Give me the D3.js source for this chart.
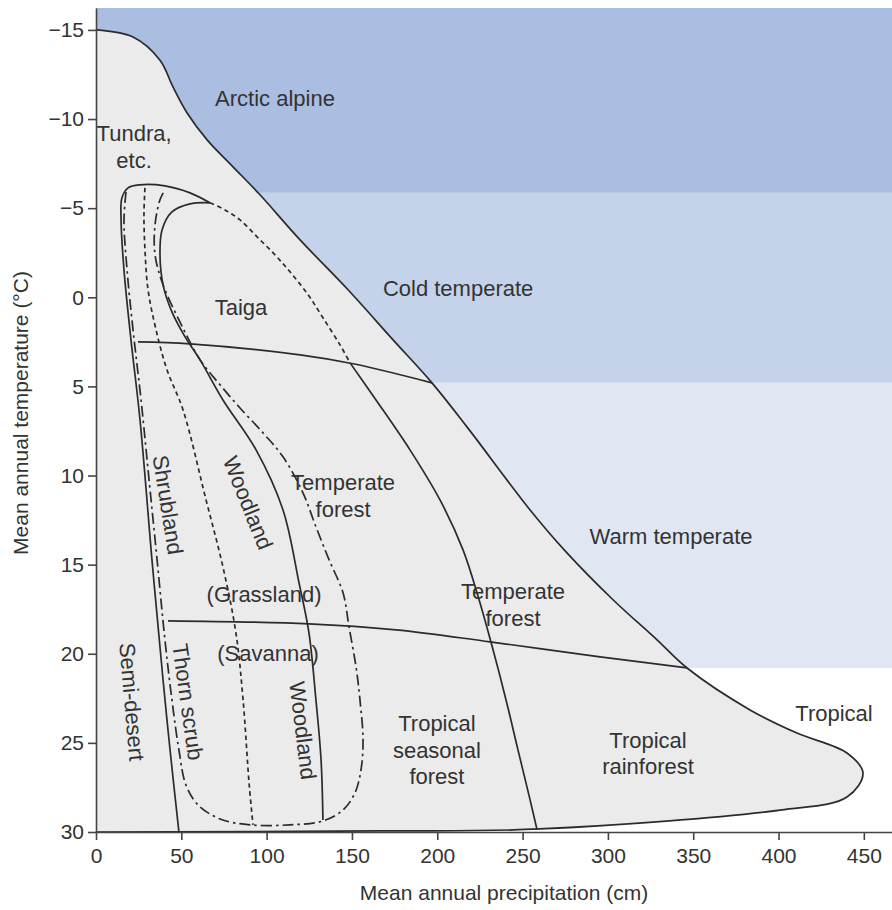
<!DOCTYPE html>
<html>
<head>
<meta charset="utf-8">
<script src="https://cdn.jsdelivr.net/npm/d3@7"></script>
<style>
  body { margin: 0; background: #fff; }
  text { font-family: "Liberation Sans", Arial, sans-serif; fill: #333; }
</style>
</head>
<body>
<script>
// Data ///////////////////////////////////////////////////////////////////

const precipTicks = [0, 50, 100, 150, 200, 250, 300, 350, 400, 450];
const tempTicks = [-15, -10, -5, 0, 5, 10, 15, 20, 25, 30];

// climate zones: temperature breaks (top of chart down to tropical)
const zoneNames = ["Arctic alpine", "Cold temperate", "Warm temperate"];
const zoneBreaks = [-16.23, -5.86, 4.8, 20.8];

// [precipitation cm, temperature °C]
const envelope = [
  [0, -15], [21.7, -14.6], [37.5, -13.3], [45.1, -11.8], [53.3, -10.35],
  [65.1, -8.83], [80.3, -7.32], [96.1, -5.75], [119.6, -3.22], [147.7, -0.42],
  [174.1, 2.39], [196.9, 4.8], [217.4, 7.27], [254.4, 11.93], [276, 14.34],
  [303, 16.97], [328.8, 19.22], [346.4, 20.8], [383.3, 23.15], [410.8, 24.45],
  [440.1, 25.57], [449.5, 26.7], [440.1, 28.04], [400.9, 28.77], [260.2, 29.83],
  [166.4, 29.94], [0, 30],
];

const semiDesertEdge = [
  [66.8, -5.3], [55.1, -5.86], [40.4, -6.25], [25.8, -6.31], [18.8, -6.14],
  [15.2, -5.58], [14.7, -4.34], [16.4, -1.54], [20.5, 2.39], [25.8, 6.88],
  [32.8, 14.73], [39.3, 21.47], [43.4, 25.4], [48.6, 30],
];

const woodlandEdge = [
  [66.8, -5.3], [55.1, -5.24], [44.5, -4.79], [38.7, -3.78], [37.5, -2.38],
  [39.3, -0.7], [44.5, 0.82], [52.2, 2.22], [61, 3.51], [74.4, 5.76],
  [93.8, 8.56], [109.6, 11.93], [119, 16.03], [124.8, 18.83], [128.9, 22.59],
  [131.9, 25.96], [133, 29.33],
];

const shrublandEdge = [
  [28.7, -6.14], [28.1, -4.63], [28.7, -2.66], [30.5, -0.42], [35.2, 1.83],
  [41.6, 4.07], [51, 6.32], [64.5, 11.37], [74.4, 15.13], [82, 18.83],
  [86.2, 22.59], [89.7, 27.25], [92, 29.6],
];

const grasslandLoop = [
  [17.6, -5.91], [16.4, -4.34], [18.2, -1.54], [21.7, 1.83], [26.4, 5.76],
  [31.1, 10.25], [35.8, 14.73], [40.4, 19.22], [44.5, 22.59], [48.6, 25.4],
  [52.7, 27.36], [59.8, 28.48], [72.7, 29.27], [90.3, 29.6], [113.7, 29.6],
  [133, 29.38], [144.8, 28.76], [151.8, 27.8], [155.3, 26.51], [156.5, 24.83],
  [154.7, 22.59], [152.4, 20.74], [148.3, 18.5], [144.8, 16.59], [136.6, 14.73],
  [128.9, 12.88], [121.3, 10.97], [109.6, 8.95], [97.9, 7.61], [84.4, 6.21],
  [72.7, 4.91], [61, 3.51], [49.2, 1.38], [39.3, -0.7], [34.6, -2.38],
  [34.6, -4.07], [37.5, -5.47], [40.4, -6.03],
];

const taigaEdge = [
  [66.8, -5.3], [75.6, -4.9], [84.4, -4.34], [94.4, -3.39], [104.9, -2.38],
  [113.7, -1.43], [124.3, -0.14], [133, 1.15], [143, 2.67], [148.9, 3.68],
];

const forestEdge = [
  [148.9, 3.68], [164.1, 5.76], [184, 8.56], [201.6, 11.37], [215.1, 14.17],
  [224.5, 16.97], [232.7, 19.78], [240.3, 22.59], [247.3, 25.39], [254.4, 28.2],
  [258.5, 29.88],
];

const coldWarmLine = [
  [24.6, 2.5], [55.1, 2.61], [119.6, 3.23], [150.7, 3.73], [196.9, 4.8],
];

const warmTropicalLine = [
  [42.2, 18.15], [124.8, 18.32], [175.8, 18.66], [230.9, 19.33], [295.4, 20.17],
  [346.4, 20.79],
];

// biome labels: text lines, anchor [precip, temp], rotation
const biomeNames = [
  ["Arctic alpine"], ["Tundra,", "etc."], ["Taiga"], ["Cold temperate"],
  ["Temperate", "forest"], ["Warm temperate"], ["Temperate", "forest"],
  ["(Grassland)"], ["(Savanna)"], ["Tropical"], ["Tropical", "seasonal", "forest"],
  ["Tropical", "rainforest"], ["Shrubland"], ["Woodland"], ["Semi-desert"],
  ["Thorn scrub"], ["Woodland"],
];
const biomeAt = [
  [104.9, -11.18], [22.3, -8.43], [85, 0.54], [212.2, -0.52],
  [144.8, 11.15], [337, 13.39], [244.4, 17.26],
  [98.5, 16.64], [100.8, 20], [432.5, 23.33], [199.8, 25.41],
  [323.5, 25.58], [42.2, 11.64], [89.1, 11.53], [21.1, 22.7],
  [53.9, 22.7], [121.3, 24.3],
];
const biomeAngle = [0, 0, 0, 0, 0, 0, 0, 0, 0, 0, 0, 0, 81, 68, 85, 82, 83];

// Chart //////////////////////////////////////////////////////////////////

const width = 892;
const height = 910;

const x = d3.scaleLinear().domain([0, 466.5]).range([96, 892]);
const y = d3.scaleLinear().domain([-16.23, 30]).range([8, 832]);

const svg = d3
  .select("body")
  .append("svg")
  .attr("width", width)
  .attr("height", height);

const zoneColors = ["#a9bee1", "#c4d3ea", "#e0e7f3"];

svg
  .append("g")
  .selectAll("rect")
  .data(zoneNames)
  .join("rect")
  .attr("x", x(0))
  .attr("width", x(466.5) - x(0))
  .attr("y", (_, i) => y(zoneBreaks[i]))
  .attr("height", (_, i) => y(zoneBreaks[i + 1]) - y(zoneBreaks[i]))
  .attr("fill", (_, i) => zoneColors[i]);

const line = d3
  .line()
  .x((d) => x(d[0]))
  .y((d) => y(d[1]))
  .curve(d3.curveCatmullRom.alpha(0.5));

svg
  .append("path")
  .attr("d", line(envelope) + "Z")
  .attr("fill", "#ebebeb")
  .attr("stroke", "none");

drawCurve(envelope, null);
drawCurve(semiDesertEdge, null);
drawCurve(woodlandEdge, null);
drawCurve(shrublandEdge, "4.5,3.5");
drawCurve(grasslandLoop, "11,4,2.5,4");
drawCurve(taigaEdge, "4.5,3.5");
drawCurve(forestEdge, null);
drawCurve(coldWarmLine, null);
drawCurve(warmTropicalLine, null);

function drawCurve(points, dash) {
  svg
    .append("path")
    .attr("d", line(points))
    .attr("fill", "none")
    .attr("stroke", "#2b2b2b")
    .attr("stroke-width", 1.7)
    .attr("stroke-dasharray", dash);
}

// Labels /////////////////////////////////////////////////////////////////

const labels = svg
  .append("g")
  .attr("font-size", 22)
  .attr("text-anchor", "middle")
  .selectAll("text")
  .data(biomeNames)
  .join("text")
  .attr(
    "transform",
    (_, i) =>
      `translate(${x(biomeAt[i][0])},${y(biomeAt[i][1])}) rotate(${biomeAngle[i]})`
  );

labels.each(function (lines) {
  const n = lines.length;
  d3.select(this)
    .selectAll("tspan")
    .data(lines)
    .join("tspan")
    .attr("x", 0)
    .attr("y", (_, j) => (j - (n - 1) / 2) * 26.5)
    .attr("dy", "0.35em")
    .text((d) => d);
});

// Axes ///////////////////////////////////////////////////////////////////

const xAxis = svg
  .append("g")
  .attr("transform", `translate(0,${y(30)})`)
  .call(
    d3.axisBottom(x).tickValues(precipTicks).tickSize(8).tickSizeOuter(0).tickPadding(8)
  );

const yAxis = svg
  .append("g")
  .attr("transform", `translate(${x(0)},0)`)
  .call(
    d3.axisLeft(y).tickValues(tempTicks).tickSize(8).tickSizeOuter(0).tickPadding(4)
  );

[xAxis, yAxis].forEach((axis) => {
  axis.select(".domain").attr("stroke", "#444").attr("stroke-width", 1.6);
  axis.selectAll(".tick line").attr("stroke", "#444").attr("stroke-width", 1.6);
  axis
    .selectAll("text")
    .attr("font-size", 21)
    .attr("font-family", '"Liberation Sans", Arial, sans-serif')
    .attr("fill", "#333");
});

svg
  .append("text")
  .text("Mean annual precipitation (cm)")
  .attr("text-anchor", "middle")
  .attr("font-size", 21)
  .attr("x", 504)
  .attr("y", 900);

svg
  .append("text")
  .text("Mean annual temperature (°C)")
  .attr("text-anchor", "middle")
  .attr("font-size", 21)
  .attr("transform", "translate(28,413) rotate(-90)");
</script>
</body>
</html>
